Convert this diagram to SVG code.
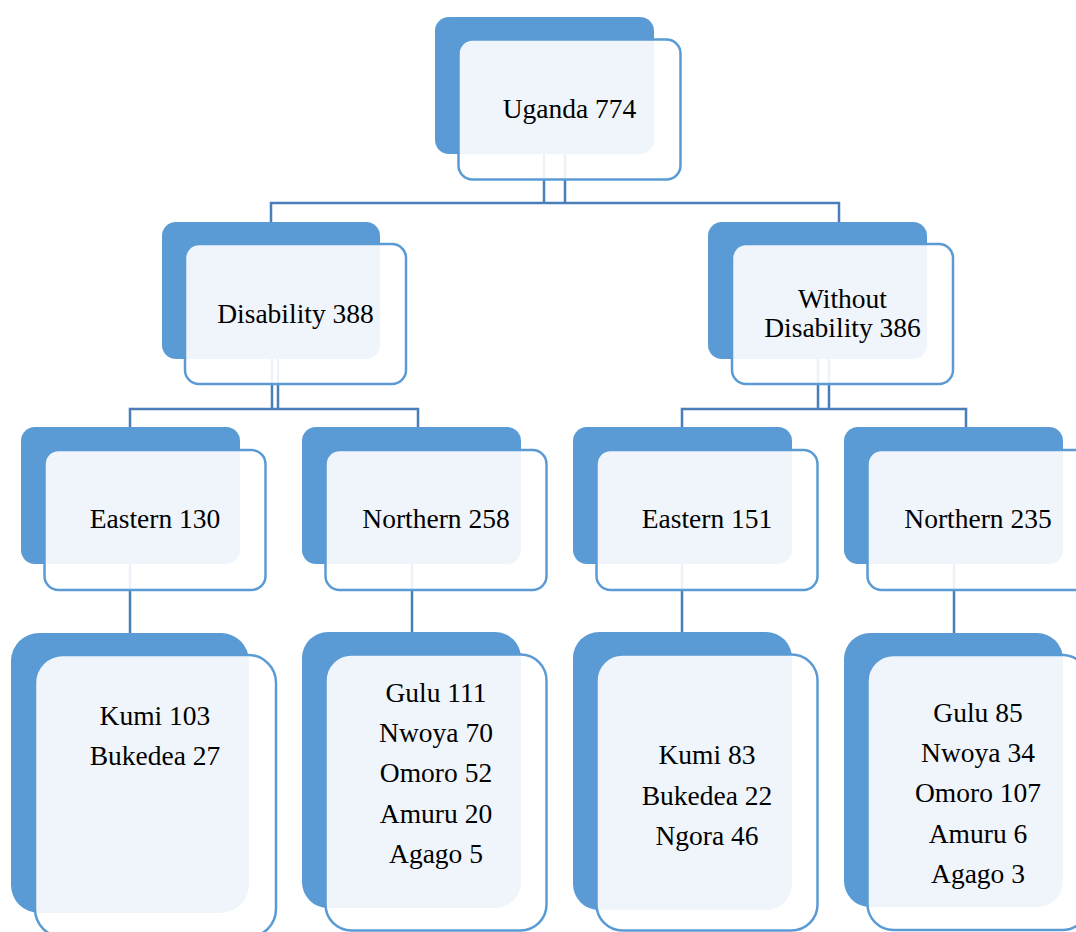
<svg xmlns="http://www.w3.org/2000/svg" width="1076" height="932" viewBox="0 0 1076 932">
<style>
.dk{fill:#5B9BD5;}
.fr{fill:#FFFFFF;fill-opacity:0.9;stroke:#5B9BD5;stroke-width:2.5;}
.cn{fill:none;stroke:#4A7EBB;stroke-width:2.5;}
.t{font-size:27.5px;fill:#000;text-anchor:middle;}
</style>
<rect width="1076" height="932" fill="#FFFFFF"/>
<g id="connectors">
<path class="cn" d="M544,154 V203 M565,154 V203 M271,222 V203 H839 V222"/>
<path class="cn" d="M272,359 V409 M278,359 V409 M130,427 V409 H418 V427"/>
<path class="cn" d="M818,359 V409 M829,359 V409 M682,427 V409 H966 V427"/>
<path class="cn" d="M130,564 V633"/>
<path class="cn" d="M412,564 V632"/>
<path class="cn" d="M682,564 V632"/>
<path class="cn" d="M954,564 V633"/>
</g>
<g font-family="'Liberation Serif', 'Times New Roman', 'DejaVu Serif', serif">
<g id="uganda">
<rect class="dk" x="435" y="17" width="219" height="137" rx="14"/>
<rect class="fr" x="458.5" y="39.5" width="222" height="140" rx="14"/>
<text class="t" x="569.5" y="118">Uganda 774</text>
</g>
<g id="disability">
<rect class="dk" x="162" y="222" width="218" height="137" rx="14"/>
<rect class="fr" x="185" y="244" width="221" height="140" rx="14"/>
<text class="t" x="295.5" y="323">Disability 388</text>
</g>
<g id="without-disability">
<rect class="dk" x="708" y="222" width="219" height="137" rx="14"/>
<rect class="fr" x="732" y="244" width="221" height="140" rx="14"/>
<text class="t" x="842.5" y="308">Without</text>
<text class="t" x="842.5" y="337">Disability 386</text>
</g>
<g id="eastern-130">
<rect class="dk" x="21" y="427" width="219" height="137" rx="14"/>
<rect class="fr" x="44.5" y="450" width="221" height="140" rx="14"/>
<text class="t" x="155" y="528">Eastern 130</text>
</g>
<g id="northern-258">
<rect class="dk" x="302" y="427" width="219" height="137" rx="14"/>
<rect class="fr" x="325.5" y="450" width="221" height="140" rx="14"/>
<text class="t" x="436" y="528">Northern 258</text>
</g>
<g id="eastern-151">
<rect class="dk" x="573" y="427" width="219" height="137" rx="14"/>
<rect class="fr" x="596.5" y="450" width="221" height="140" rx="14"/>
<text class="t" x="707" y="528">Eastern 151</text>
</g>
<g id="northern-235">
<rect class="dk" x="844" y="427" width="219" height="137" rx="14"/>
<rect class="fr" x="867.5" y="450" width="221" height="140" rx="14"/>
<text class="t" x="978" y="528">Northern 235</text>
</g>
<g id="districts-eastern-disability">
<rect class="dk" x="11" y="633" width="238" height="280" rx="28"/>
<rect class="fr" x="35" y="655" width="241" height="282" rx="28"/>
<text class="t" x="155" y="725">Kumi 103</text>
<text class="t" x="155" y="765">Bukedea 27</text>
</g>
<g id="districts-northern-disability">
<rect class="dk" x="302" y="632" width="219" height="276" rx="26"/>
<rect class="fr" x="325.5" y="654.5" width="221" height="276" rx="26"/>
<text class="t" x="436" y="702">Gulu 111</text>
<text class="t" x="436" y="742">Nwoya 70</text>
<text class="t" x="436" y="782">Omoro 52</text>
<text class="t" x="436" y="823">Amuru 20</text>
<text class="t" x="436" y="863">Agago 5</text>
</g>
<g id="districts-eastern-without">
<rect class="dk" x="573" y="632" width="219" height="278" rx="26"/>
<rect class="fr" x="596.5" y="654.5" width="221" height="276" rx="26"/>
<text class="t" x="707" y="764">Kumi 83</text>
<text class="t" x="707" y="805">Bukedea 22</text>
<text class="t" x="707" y="845">Ngora 46</text>
</g>
<g id="districts-northern-without">
<rect class="dk" x="844" y="633" width="219" height="274" rx="26"/>
<rect class="fr" x="867.5" y="655" width="221" height="275" rx="26"/>
<text class="t" x="978" y="722">Gulu 85</text>
<text class="t" x="978" y="762">Nwoya 34</text>
<text class="t" x="978" y="802">Omoro 107</text>
<text class="t" x="978" y="843">Amuru 6</text>
<text class="t" x="978" y="883">Agago 3</text>
</g>
</g>
</svg>
